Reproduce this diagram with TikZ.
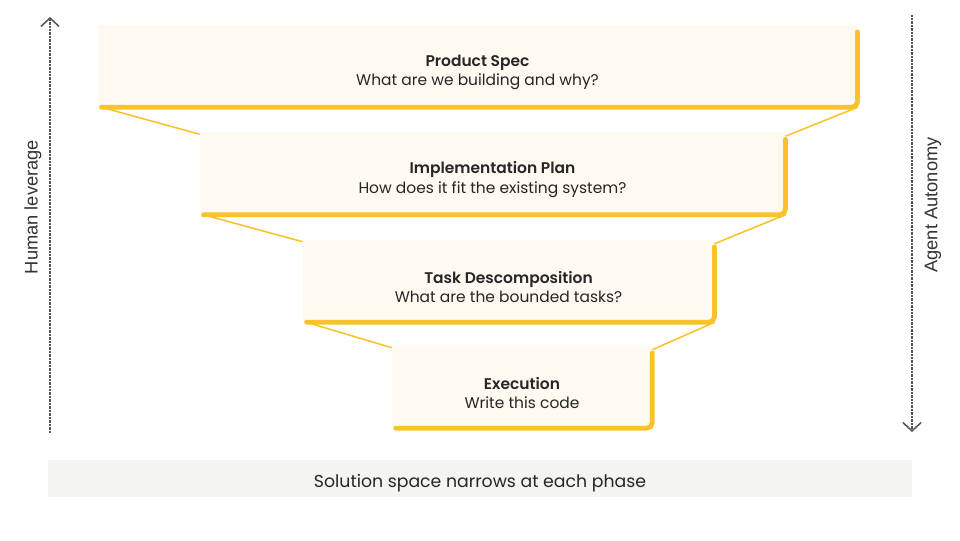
\documentclass[tikz,border=0pt]{standalone}
\usepackage{fontspec}
\setmainfont{Poppins}[BoldFont={Poppins SemiBold}]
\newfontfamily\sidefont{Liberation Sans}
\usetikzlibrary{arrows.meta}
\definecolor{gold}{HTML}{F8C32A}
\definecolor{cream}{HTML}{FFFAF1}
\definecolor{bandgray}{HTML}{F4F4F2}
\definecolor{inkgray}{HTML}{555555}
\tikzset{
  phase/.style={rectangle, fill=cream, inner sep=0pt, minimum height=2.05cm},
  phasetext/.style={align=center, inner sep=0pt, text=black!85, font=\fontsize{11}{13.6}\selectfont},
  rim/.style={draw=gold, line width=3.4pt, line cap=round, rounded corners=4pt},
  funnel/.style={draw=gold, line width=1.1pt},
  guide/.style={draw=inkgray, dash pattern=on 0.5pt off 0.5pt, line width=0.9pt, -{Straight Barb[length=6pt, width=13pt, line width=1.1pt]}},
  sidelabel/.style={font=\sidefont\fontsize{13}{13}\selectfont, text=black!80, rotate=90},
  band/.style={rectangle, fill=bandgray, minimum width=21.6cm, minimum height=0.93cm}
}

\begin{document}
\begin{tikzpicture}[x=0.025cm, y=-0.025cm]
  \useasboundingbox (0,0) rectangle (960,540);

  \node (spec) [phase, minimum width=18.98cm] at (477.5,66) {};
  \node (plan) [phase, minimum width=14.63cm] at (492.5,173.5) {};
  \node (tasks) [phase, minimum width=10.28cm] at (508.5,281) {};
  \node (exec) [phase, minimum width=6.5cm] at (522,387) {};

  \node (spectext) [phasetext] at ([yshift=-0.15cm]spec.center) {\textbf{Product Spec}\\What are we building and why?};
  \node (plantext) [phasetext] at ([yshift=-0.15cm]plan.center) {\textbf{Implementation Plan}\\How does it fit the existing system?};
  \node (taskstext) [phasetext] at ([yshift=-0.15cm]tasks.center) {\textbf{Task Descomposition}\\What are the bounded tasks?};
  \node (exectext) [phasetext] at ([yshift=-0.15cm]exec.center) {\textbf{Execution}\\Write this code};

  % yellow edges under and right of each phase
  \draw [rim] ([xshift=0.1cm]spec.south west) -- (spec.south east) -- ([yshift=-0.18cm]spec.north east);
  \draw [rim] ([xshift=0.1cm]plan.south west) -- (plan.south east) -- ([yshift=-0.18cm]plan.north east);
  \draw [rim] ([xshift=0.1cm]tasks.south west) -- (tasks.south east) -- ([yshift=-0.18cm]tasks.north east);
  \draw [rim] ([xshift=0.1cm]exec.south west) -- (exec.south east) -- ([yshift=-0.18cm]exec.north east);

  % funnel sides
  \draw [funnel] ([xshift=0.1cm]spec.south west) -- ([yshift=-0.05cm]plan.north west);
  \draw [funnel] (spec.south east) -- ([yshift=-0.1cm]plan.north east);
  \draw [funnel] ([xshift=0.1cm]plan.south west) -- ([yshift=-0.05cm]tasks.north west);
  \draw [funnel] (plan.south east) -- ([yshift=-0.1cm]tasks.north east);
  \draw [funnel] ([xshift=0.1cm]tasks.south west) -- ([yshift=-0.05cm]exec.north west);
  \draw [funnel] (tasks.south east) -- ([yshift=-0.1cm]exec.north east);

  % side axes
  \coordinate (humanlo) at (50,433);
  \coordinate (humanhi) at (50,17);
  \coordinate (agenthi) at (912,15);
  \coordinate (agentlo) at (912,432);
  \draw [guide] (humanlo) -- (humanhi);
  \draw [guide] (agenthi) -- (agentlo);
  \node (human) [sidelabel] at (33,207) {Human leverage};
  \node (agent) [sidelabel] at (933,205) {Agent Autonomy};

  \node (note) [band] at (480,478.5) {};
  \node (notetext) [phasetext, font=\fontsize{12.3}{14}\selectfont] at (480,483) {Solution space narrows at each phase};
\end{tikzpicture}
\end{document}
